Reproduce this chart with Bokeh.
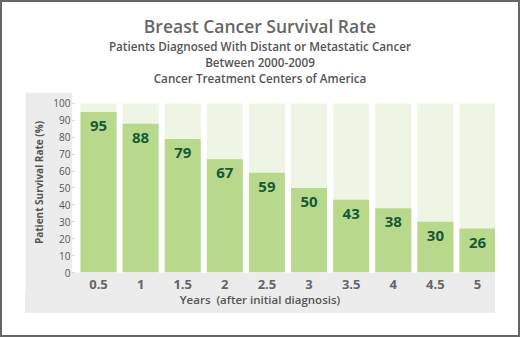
from bokeh.plotting import figure
from bokeh.models import ColumnDataSource, Range1d, FixedTicker, Div
from bokeh.layouts import column
from bokeh.core.properties import value
from bokeh.embed import file_html
from bokeh.resources import INLINE

# ---- data ----
years = [0.5, 1, 1.5, 2, 2.5, 3, 3.5, 4, 4.5, 5]
year_labels = ["0.5", "1", "1.5", "2", "2.5", "3", "3.5", "4", "4.5", "5"]
survival = [95, 88, 79, 67, 59, 50, 43, 38, 30, 26]
y_ticks = [0, 10, 20, 30, 40, 50, 60, 70, 80, 90, 100]

title = "Breast Cancer Survival Rate"
subtitles = ["Patients Diagnosed With Distant or Metastatic Cancer",
             "Between 2000-2009",
             "Cancer Treatment Centers of America"]
x_label = "Years&nbsp;&nbsp;(after initial diagnosis)"
y_label = "Patient Survival Rate (%)"

FONT = "Open Sans"
PANEL = "#ececec"

src = ColumnDataSource(dict(
    x=years,
    top=survival,
    full=[100] * len(years),
    label=[str(v) for v in survival],
))

X0, X1 = 0.1913, 5.2137
p = figure(width=470, height=199, output_backend="svg", toolbar_location=None,
           x_range=Range1d(X0, X1), y_range=Range1d(0, 106.5),
           min_border_left=47, min_border_right=0, min_border_top=0, min_border_bottom=18,
           border_fill_color=PANEL, background_fill_color="white",
           outline_line_color=None)
p.margin = (0, 0, 0, 23)
p.grid.grid_line_color = None

bw = 0.4275
p.vbar(x="x", top="full", bottom=0, width=bw, source=src, fill_color="#eef5e4", line_color=None)
p.vbar(x="x", top="top", bottom=0, width=bw, source=src, fill_color="#b8d98b", line_color=None)
p.text(x="x", y="top", text="label", source=src, y_offset=14,
       text_align="center", text_baseline="middle",
       text_font=value(FONT), text_font_size="15px", text_font_style="bold",
       text_color="#15593a")

# x axis
p.xaxis.ticker = FixedTicker(ticks=years)
p.xaxis.major_label_overrides = {y: l for y, l in zip(years, year_labels)}
p.xaxis.axis_line_color = None
p.xaxis.major_tick_line_color = None
p.xaxis.minor_tick_line_color = None
p.xaxis.major_label_text_font = FONT
p.xaxis.major_label_text_font_size = "13px"
p.xaxis.major_label_text_font_style = "bold"
p.xaxis.major_label_text_color = "#666666"
p.xaxis.major_label_standoff = 1

# y axis
p.yaxis.ticker = FixedTicker(ticks=y_ticks)
p.yaxis.axis_line_color = None
p.yaxis.major_tick_line_color = "#cccccc"
p.yaxis.major_tick_in = 2
p.yaxis.major_tick_out = 0
p.yaxis.minor_tick_line_color = None
p.yaxis.major_label_text_font = FONT
p.yaxis.major_label_text_font_size = "10px"
p.yaxis.major_label_text_color = "#555555"
p.yaxis.major_label_standoff = 2
p.yaxis.axis_label = y_label
p.yaxis.axis_label_text_font = FONT
p.yaxis.axis_label_text_font_size = "10px"
p.yaxis.axis_label_text_font_style = "bold"
p.yaxis.axis_label_text_color = "#555555"
p.yaxis.axis_label_standoff = 4

sub_html = "".join(
    f'<div style="font-size:11.7px;font-weight:600;color:#555;line-height:16px;height:16px;">{s}</div>'
    for s in subtitles
)
html_title = (
    f'<div style="width:516px;text-align:center;font-family:\'{FONT}\';color:#666;padding-top:12px;">'
    f'<div style="font-size:17.5px;font-weight:600;line-height:24px;height:24px;">{title}</div>'
    + sub_html + '</div>'
)
div = Div(text=html_title, width=516, height=90, margin=(0, 0, 0, 0))

# x-axis title, centred on the grey panel (as in the reference)
xlab_div = Div(
    text=(f'<div style="width:470px;height:22px;text-align:center;font-family:\'{FONT}\';'
          f'font-size:11.5px;font-weight:600;color:#555;line-height:17px;">{x_label}</div>'),
    width=470, height=22, margin=(0, 0, 0, 23),
    styles={"background-color": PANEL},
)

layout = column(div, p, xlab_div, width=520, height=337, spacing=0,
                styles={"border": "2px solid #666", "background-color": "white",
                        "box-sizing": "border-box"})

open("out.html", "w").write(file_html(layout, INLINE))
